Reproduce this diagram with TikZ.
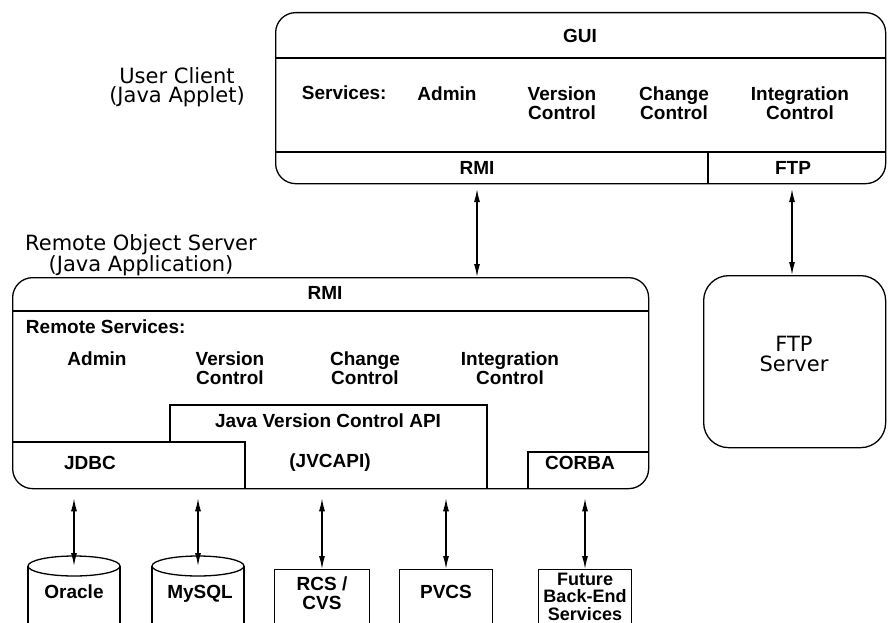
\documentclass[tikz,border=0pt]{standalone}
\usepackage{fontspec}
\setmainfont{Liberation Sans}
\newfontfamily\headfont{DejaVu Sans}
\usetikzlibrary{positioning,arrows.meta}

\begin{document}
\begin{tikzpicture}[x=1pt,y=-1pt,line width=1.3pt,font=\fontsize{19}{19.5}\selectfont\bfseries]
\tikzstyle{round box}=[draw,rounded corners=20pt,anchor=north west,inner sep=0]
\tikzstyle{plain box}=[draw,anchor=north,inner sep=0]
\tikzstyle{item}=[align=center,inner sep=0]
\tikzstyle{head}=[align=center,inner sep=0,font=\headfont\fontsize{21}{19.5}\selectfont]
\tikzstyle{both ways}=[{Latex[length=13pt,width=6pt]}-{Latex[length=13pt,width=6pt]}]
\useasboundingbox (0,0) rectangle (888,623);
\clip (0,0) rectangle (888,623);
\node[round box,minimum width=610,minimum height=171](client) at (275,12) {};
\draw (275,58) -- (885,58);
\draw (275,152) -- (885,152);
\draw (708,152) -- (708,183);
\node(gui) at (580,36) {GUI};
\node[anchor=west](svc) at (298,93) {Services:};
\node[item,anchor=north](cAdmin) at (447,86) {Admin};
\node[item,anchor=north](cVer) at (562,86) {Version\\Control};
\node[item,anchor=north](cChg) at (674,86) {Change\\Control};
\node[item,anchor=north](cInt) at (800,86) {Integration\\Control};
\node(crmi) at (477,168) {RMI};
\node(cftp) at (793,168) {FTP};
\node[head](userclient) at (177,87) {User Client\\(Java Applet)};
\node[head](ros) at (141,255) {Remote Object Server\\(Java Application)};
\node[round box,minimum width=636,minimum height=211](server) at (12,277) {};
\draw (12,311) -- (648,311);
\node(srmi) at (325,293) {RMI};
\node[anchor=west](rsvc) at (22,327) {Remote Services:};
\node[item,anchor=north](sAdmin) at (97,351) {Admin};
\node[item,anchor=north](sVer) at (230,351) {Version\\Control};
\node[item,anchor=north](sChg) at (365,351) {Change\\Control};
\node[item,anchor=north](sInt) at (510,351) {Integration\\Control};
\draw (170,442) |- (487,405) -- (487,488);
\node(jvc) at (328,421) {Java Version Control API};
\node(jvcapi) at (330,463) {(JVCAPI)};
\draw (12,442) -| (245,488);
\node(jdbc) at (90,463) {JDBC};
\draw (528,488) |- (648,452);
\node(corba) at (580,463) {CORBA};
\node[round box,minimum width=182,minimum height=172,rounded corners=25pt](ftpsrv) at (703,275) {};
\node[head](ftptext) at (794,354) {FTP\\Server};
\coordinate (rmiout) at (477,189);
\coordinate (ftpout) at (792,189);
\draw[both ways] (rmiout) -- (rmiout |- server.north);
\draw[both ways] (ftpout) -- (ftpout |- ftpsrv.north);
\foreach \x/\n in {74/ora,198/my}{
  \draw (\x-46,566) -- (\x-46,640) (\x+46,566) -- (\x+46,640);
  \draw (\x,566) ellipse (46pt and 10pt);
  \coordinate (\n) at (\x,566);
}
\node(oracle) at (74,592) {Oracle};
\node(mysql) at (200,594) {MySQL};
\node[plain box,minimum width=95,minimum height=90](rcs) at (322,569) {};
\node[item,below=7pt of rcs.north](rcstext) {RCS /\\CVS};
\node[plain box,minimum width=93,minimum height=90](pvcs) at (446,569) {};
\node(pvcstext) at (446,592) {PVCS};
\node[plain box,minimum width=93,minimum height=90](future) at (585,569) {};
\node[item,below=3pt of future.north,font=\fontsize{18}{17.5}\selectfont\bfseries](futuretext) {Future\\Back-End\\Services};
\foreach \n in {ora,my,rcs.north,pvcs.north,future.north}
  \draw[both ways,shorten <=9pt] (\n |- server.south) -- (\n);
\end{tikzpicture}
\end{document}
